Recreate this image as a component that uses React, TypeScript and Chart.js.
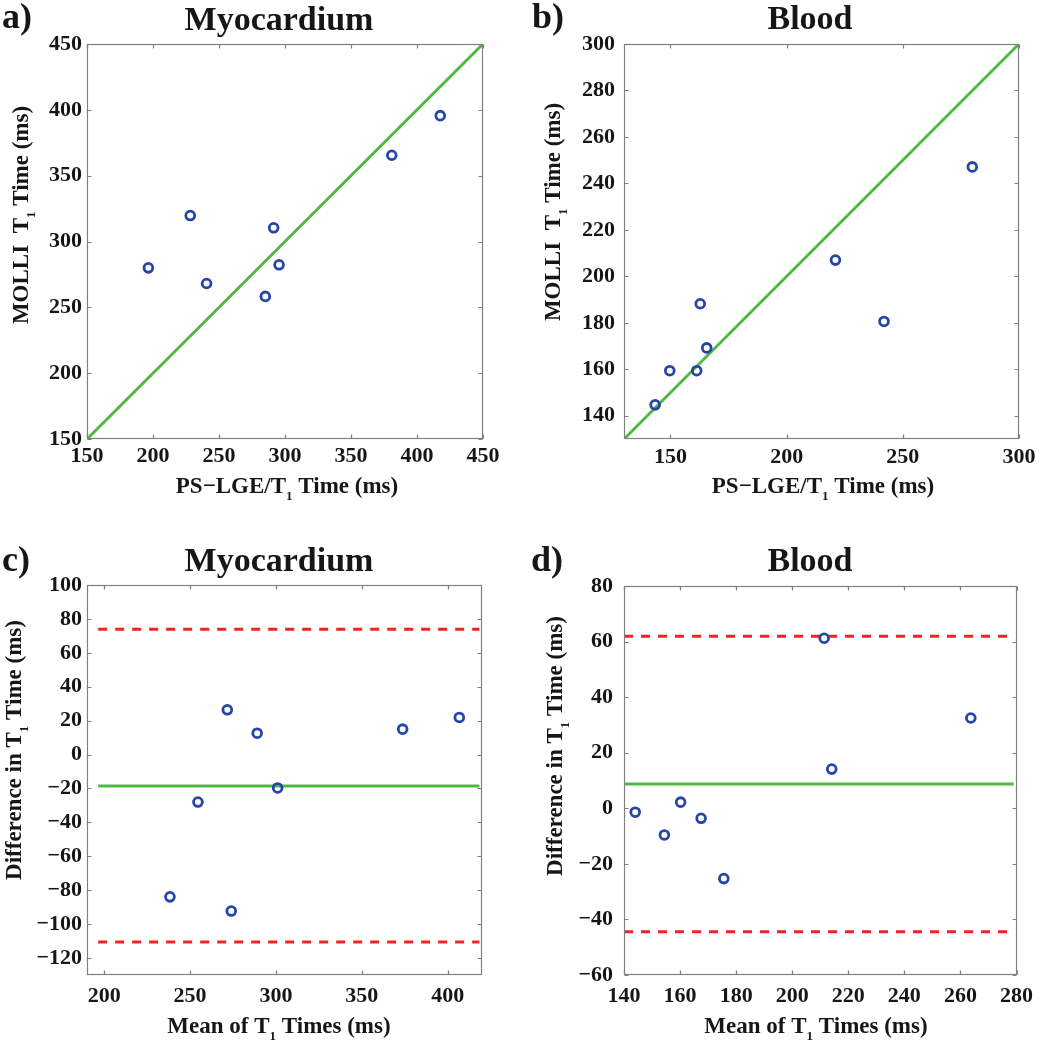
import React, { useEffect, useRef } from "react";
import { Chart, registerables } from "chart.js";

Chart.register(...registerables);

// ---------- data ----------
// a) Myocardium: PS-LGE/T1 vs MOLLI T1
const psMyo = [196.5, 228.2, 240.6, 285.1, 291.4, 295.5, 380.9, 417.6];
const molliMyo = [280.0, 319.7, 268.1, 258.3, 310.4, 282.3, 365.5, 395.6];
const identityMyo = [150, 450];
const ticksMyoX = [150, 200, 250, 300, 350, 400, 450];
const ticksMyoY = [150, 200, 250, 300, 350, 400, 450];

// b) Blood
const psBlood = [143.4, 149.7, 161.3, 162.8, 165.6, 221.0, 241.9, 279.9];
const molliBlood = [144.7, 159.4, 159.4, 188.2, 169.2, 207.0, 180.6, 247.1];
const identityBlood = [130, 300];
const ticksBloodX = [150, 200, 250, 300];
const ticksBloodY = [140, 160, 180, 200, 220, 240, 260, 280, 300];

// c) Myocardium Bland-Altman
const meanMyo = [238.3, 254.6, 271.7, 274.0, 289.1, 301.0, 373.8, 406.8];
const diffMyo = [-83.9, -28.0, 26.4, -92.3, 12.6, -19.7, 15.0, 21.9];
const baMyoRange = [196.5, 418.5];
const baMyoBias = -18.5;
const baMyoLoA = [73.9, -110.5];
const ticksBaMyoX = [200, 250, 300, 350, 400];
const ticksBaMyoY = [-120, -100, -80, -60, -40, -20, 0, 20, 40, 60, 80, 100];

// d) Blood Bland-Altman
const meanBlood = [144.0, 154.4, 160.2, 167.5, 175.6, 211.4, 214.1, 263.7];
const diffBlood = [-1.4, -9.6, 2.2, -3.6, -25.3, 61.2, 14.1, 32.5];
const baBloodRange = [140, 279];
const baBloodBias = 8.7;
const baBloodLoA = [61.9, -44.4];
const ticksBaBloodX = [140, 160, 180, 200, 220, 240, 260, 280];
const ticksBaBloodY = [-60, -40, -20, 0, 20, 40, 60, 80];

// ---------- styles ----------
const FONT = '"Liberation Serif", "Times New Roman", serif';
const TEXT = "#161616";
const BOX = "#808080";
const BLUE = "#2645a8";
const GREEN = "#52b844";
const RED = "#f22222";

const pts = (xs: number[], ys: number[]) => xs.map((x, i) => ({ x, y: ys[i] }));
const fmt = (v: any) => String(v).replace("-", "\u2212");

type Part = { t: string; sub?: boolean };

function drawParts(ctx: CanvasRenderingContext2D, parts: Part[], size: number) {
  const main = `bold ${size}px ${FONT}`;
  const sub = `bold ${Math.round(size * 0.58)}px ${FONT}`;
  let w = 0;
  const widths = parts.map((p) => {
    ctx.font = p.sub ? sub : main;
    const m = ctx.measureText(p.t).width;
    w += m;
    return m;
  });
  let x = -w / 2;
  parts.forEach((p, i) => {
    ctx.font = p.sub ? sub : main;
    ctx.fillText(p.t, x, p.sub ? size * 0.3 : 0);
    x += widths[i];
  });
}

const decorPlugin = {
  id: "decor",
  afterDatasetsDraw(chart: any, _args: any, o: any) {
    const { ctx, chartArea: ca, scales } = chart;
    ctx.save();
    // box
    ctx.strokeStyle = BOX;
    ctx.lineWidth = 1.2;
    const L = Math.round(ca.left) + 0.5;
    const T = Math.round(ca.top) + 0.5;
    const R = Math.round(ca.right) - 0.5;
    const B = Math.round(ca.bottom) - 0.5;
    ctx.strokeRect(L, T, R - L, B - T);
    // inward tick marks on all four sides
    const tl = 4;
    ctx.beginPath();
    scales.x.ticks.forEach((t: any) => {
      const px = Math.round(scales.x.getPixelForValue(t.value)) + 0.5;
      ctx.moveTo(px, B);
      ctx.lineTo(px, B - tl);
      ctx.moveTo(px, T);
      ctx.lineTo(px, T + tl);
    });
    scales.y.ticks.forEach((t: any) => {
      const py = Math.round(scales.y.getPixelForValue(t.value)) + 0.5;
      ctx.moveTo(L, py);
      ctx.lineTo(L + tl, py);
      ctx.moveTo(R, py);
      ctx.lineTo(R - tl, py);
    });
    ctx.stroke();

    ctx.fillStyle = TEXT;
    ctx.textBaseline = "alphabetic";
    // panel tag
    ctx.textAlign = "left";
    ctx.font = `bold 36px ${FONT}`;
    ctx.fillText(o.tag, o.tagX, o.tagY);
    // title
    ctx.textAlign = "center";
    ctx.font = `bold 34px ${FONT}`;
    ctx.fillText(o.title, o.titleX, o.titleY);
    // x axis title
    ctx.textAlign = "left";
    ctx.save();
    ctx.translate(o.xtX, o.xtY);
    drawParts(ctx, o.xTitle, 23);
    ctx.restore();
    // y axis title
    ctx.save();
    ctx.translate(o.ytX, o.ytY);
    ctx.rotate(-Math.PI / 2);
    drawParts(ctx, o.yTitle, 23);
    ctx.restore();
    ctx.restore();
  },
};

type PanelCfg = {
  left: number;
  top: number;
  w: number;
  h: number;
  area: { l: number; t: number; r: number; b: number };
  xMin: number;
  xMax: number;
  yMin: number;
  yMax: number;
  xTicks: number[];
  yTicks: number[];
  yPad: number;
  xPad: number;
  datasets: any[];
  decor: any;
};

const XH = 60;

function Panel({ cfg }: { cfg: PanelCfg }) {
  const ref = useRef<HTMLCanvasElement>(null);
  useEffect(() => {
    if (!ref.current) return;
    const tickFont = { family: FONT, size: 22, weight: "bold" as const };
    const chart = new Chart(ref.current, {
      type: "scatter",
      data: { datasets: cfg.datasets },
      options: {
        responsive: false,
        animation: false,
        events: [],
        layout: {
          padding: {
            left: 0,
            top: cfg.area.t,
            right: cfg.w - cfg.area.r,
            bottom: cfg.h - cfg.area.b - XH,
          },
        },
        plugins: {
          legend: { display: false },
          title: { display: false },
          tooltip: { enabled: false },
          decor: cfg.decor,
        } as any,
        scales: {
          x: {
            type: "linear",
            min: cfg.xMin,
            max: cfg.xMax,
            grid: { display: false, drawTicks: false },
            border: { display: false },
            ticks: { font: tickFont, color: TEXT, padding: cfg.xPad, maxRotation: 0, autoSkip: false, callback: fmt },
            afterBuildTicks: (s: any) => {
              s.ticks = cfg.xTicks.map((v) => ({ value: v }));
            },
            afterFit: (s: any) => {
              s.height = XH;
            },
          },
          y: {
            type: "linear",
            min: cfg.yMin,
            max: cfg.yMax,
            grid: { display: false, drawTicks: false },
            border: { display: false },
            ticks: { font: tickFont, color: TEXT, padding: cfg.yPad, autoSkip: false, callback: fmt },
            afterBuildTicks: (s: any) => {
              s.ticks = cfg.yTicks.map((v) => ({ value: v }));
            },
            afterFit: (s: any) => {
              s.width = cfg.area.l;
            },
          },
        },
      },
      plugins: [decorPlugin],
    });
    return () => chart.destroy();
  }, [cfg]);
  return (
    <canvas
      ref={ref}
      width={cfg.w}
      height={cfg.h}
      style={{ position: "absolute", left: cfg.left, top: cfg.top, width: cfg.w, height: cfg.h, display: "block" }}
    />
  );
}

const scatterDs = (xs: number[], ys: number[]) => ({
  type: "scatter",
  data: pts(xs, ys),
  borderColor: BLUE,
  backgroundColor: "rgba(255,255,255,0)",
  borderWidth: 2.8,
  pointRadius: 4.4,
  pointStyle: "circle",
  order: 0,
});

const lineDs = (xs: number[], ys: number[], color: string, dash: number[] = []) => ({
  type: "line",
  data: pts(xs, ys),
  borderColor: color,
  borderWidth: 3,
  borderDash: dash,
  pointRadius: 0,
  showLine: true,
  fill: false,
  order: 1,
});

const T1 = (pre: string, post: string): Part[] => [{ t: pre }, { t: "1", sub: true }, { t: post }];

const panels: PanelCfg[] = [
  {
    left: 0, top: 0, w: 520, h: 520,
    area: { l: 87, t: 44, r: 483, b: 439 },
    xMin: 150, xMax: 450, yMin: 150, yMax: 450,
    xTicks: ticksMyoX, yTicks: ticksMyoY, yPad: 5, xPad: 4,
    datasets: [scatterDs(psMyo, molliMyo), lineDs(identityMyo, identityMyo, GREEN)],
    decor: {
      tag: "a)", tagX: 2, tagY: 28, title: "Myocardium", titleX: 279, titleY: 30,
      xTitle: T1("PS\u2212LGE/T", " Time (ms)"), xtX: 287, xtY: 493,
      yTitle: T1("MOLLI  T", " Time (ms)"), ytX: 28, ytY: 215,
    },
  },
  {
    left: 520, top: 0, w: 521, h: 520,
    area: { l: 104, t: 44, r: 499, b: 439 },
    xMin: 130, xMax: 300, yMin: 130, yMax: 300,
    xTicks: ticksBloodX, yTicks: ticksBloodY, yPad: 9, xPad: 5,
    datasets: [scatterDs(psBlood, molliBlood), lineDs(identityBlood, identityBlood, GREEN)],
    decor: {
      tag: "b)", tagX: 12, tagY: 28, title: "Blood", titleX: 290, titleY: 29,
      xTitle: T1("PS\u2212LGE/T", " Time (ms)"), xtX: 303, xtY: 493,
      yTitle: T1("MOLLI  T", " Time (ms)"), ytX: 40, ytY: 212,
    },
  },
  {
    left: 0, top: 520, w: 520, h: 530,
    area: { l: 87, t: 65, r: 482, b: 455 },
    xMin: 190, xMax: 420, yMin: -130, yMax: 100,
    xTicks: ticksBaMyoX, yTicks: ticksBaMyoY, yPad: 5, xPad: 8,
    datasets: [
      scatterDs(meanMyo, diffMyo),
      lineDs(baMyoRange, [baMyoBias, baMyoBias], GREEN),
      lineDs(baMyoRange, [baMyoLoA[0], baMyoLoA[0]], RED, [9, 8]),
      lineDs(baMyoRange, [baMyoLoA[1], baMyoLoA[1]], RED, [9, 8]),
    ],
    decor: {
      tag: "c)", tagX: 2, tagY: 51, title: "Myocardium", titleX: 279, titleY: 51,
      xTitle: T1("Mean of T", " Times (ms)"), xtX: 279, xtY: 513,
      yTitle: T1("Difference in T", " Time (ms)"), ytX: 21, ytY: 230,
    },
  },
  {
    left: 520, top: 520, w: 521, h: 530,
    area: { l: 104, t: 66, r: 498, b: 455 },
    xMin: 140, xMax: 280, yMin: -60, yMax: 80,
    xTicks: ticksBaBloodX, yTicks: ticksBaBloodY, yPad: 11, xPad: 8,
    datasets: [
      scatterDs(meanBlood, diffBlood),
      lineDs(baBloodRange, [baBloodBias, baBloodBias], GREEN),
      lineDs(baBloodRange, [baBloodLoA[0], baBloodLoA[0]], RED, [9, 8]),
      lineDs(baBloodRange, [baBloodLoA[1], baBloodLoA[1]], RED, [9, 8]),
    ],
    decor: {
      tag: "d)", tagX: 11, tagY: 51, title: "Blood", titleX: 290, titleY: 51,
      xTitle: T1("Mean of T", " Times (ms)"), xtX: 296, xtY: 513,
      yTitle: T1("Difference in T", " Time (ms)"), ytX: 42, ytY: 226,
    },
  },
];

export default function App() {
  return (
    <div style={{ position: "absolute", left: 0, top: 0, width: 1041, height: 1050, background: "#ffffff" }}>
      {panels.map((p, i) => (
        <Panel key={i} cfg={p} />
      ))}
    </div>
  );
}
